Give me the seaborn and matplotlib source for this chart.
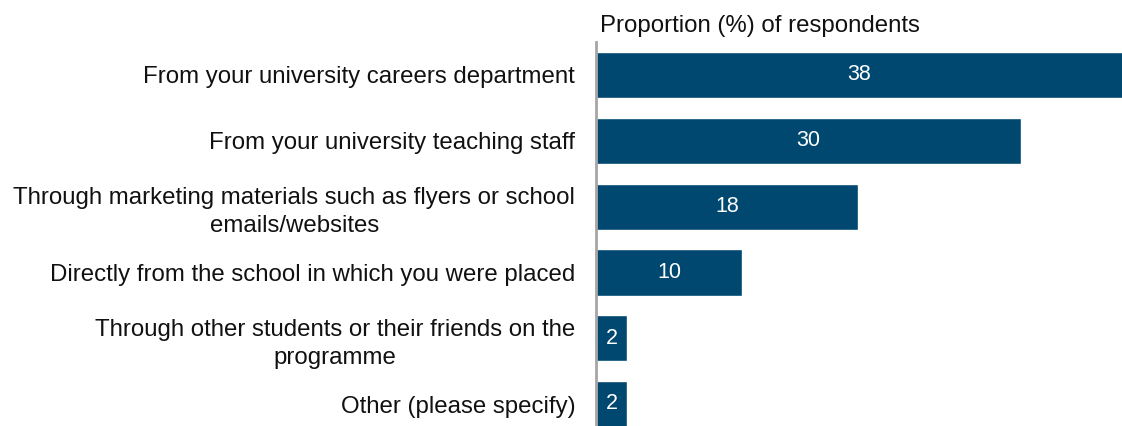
import matplotlib
matplotlib.use("Agg")
import matplotlib.pyplot as plt
import seaborn as sns
import pandas as pd

categories = [
    "From your university careers department",
    "From your university teaching staff",
    "Through marketing materials such as flyers or school\nemails/websites",
    "Directly from the school in which you were placed",
    "Through other students or their friends on the\nprogramme",
    "Other (please specify)",
]
values = [38.4, 29.7, 18.3, 10.2, 2.2, 2.2]
labels = ["38", "30", "18", "10", "2", "2"]

df = pd.DataFrame({"source": categories, "pct": values})

sns.set_theme(style="white")
plt.rcParams['font.family'] = ['Liberation Sans', 'DejaVu Sans']

fig = plt.figure(figsize=(11.22, 4.26), dpi=100)
ax = fig.add_axes([596/1122, 0, 1 - 596/1122, 1 - 42/426])

sns.barplot(data=df, x="pct", y="source", orient="h", color="#004870",
            saturation=1, width=0.7, ax=ax)

ax.set_xlim(0, 526/14.3)
ax.set_ylim(5.33, -0.5)
ax.bar_label(ax.containers[0], labels=labels, label_type="center",
             color="white", fontsize=15.5)

for s in ["top", "right", "bottom"]:
    ax.spines[s].set_visible(False)
ax.spines["left"].set_color("#a6a6a6")
ax.spines["left"].set_linewidth(2)
ax.set_xticks([])
ax.set_xlabel("")
ax.set_ylabel("")
ax.tick_params(axis="y", length=0, pad=15, labelsize=17.3, labelcolor="#111111")
for t in ax.get_yticklabels():
    t.set_multialignment("center")
    t.set_linespacing(1.35)

fig.text(600/1122, 1 - 26/426, "Proportion (%) of respondents", fontsize=17.3,
         color="#111111", ha="left", va="center")

fig.savefig("out.png", dpi=100)
